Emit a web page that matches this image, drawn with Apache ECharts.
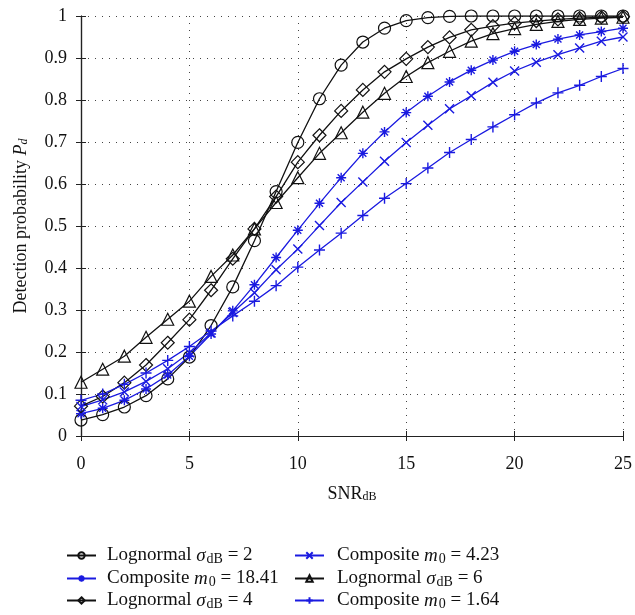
<!DOCTYPE html>
<html>
<head>
<meta charset="utf-8">
<script src="https://cdn.jsdelivr.net/npm/echarts@6/dist/echarts.min.js"></script>
<style>
html,body{margin:0;padding:0;background:#fff;}
#chart{width:635px;height:615px;}
</style>
</head>
<body>
<div id="chart"></div>
<script>
const snr = [0,1,2,3,4,5,6,7,8,9,10,11,12,13,14,15,16,17,18,19,20,21,22,23,24,25];
const xTicks = [0,5,10,15,20,25];
const yTicks = [0,0.1,0.2,0.3,0.4,0.5,0.6,0.7,0.8,0.9,1];

const logn2  = [0.038,0.051,0.069,0.096,0.136,0.188,0.263,0.355,0.465,0.582,0.699,0.803,0.883,0.938,0.971,0.989,0.996,0.999,1,1,1,1,1,1,1,1];
const logn4  = [0.071,0.094,0.127,0.169,0.222,0.277,0.347,0.422,0.493,0.57,0.652,0.716,0.774,0.824,0.867,0.898,0.926,0.949,0.967,0.976,0.983,0.988,0.992,0.995,0.997,0.998];
const logn6  = [0.128,0.159,0.19,0.235,0.278,0.321,0.38,0.431,0.493,0.556,0.615,0.673,0.722,0.771,0.816,0.856,0.889,0.916,0.94,0.958,0.97,0.98,0.987,0.992,0.995,0.997];
const comp1841 = [0.053,0.066,0.085,0.112,0.145,0.19,0.243,0.298,0.36,0.425,0.49,0.554,0.615,0.673,0.724,0.77,0.809,0.843,0.871,0.895,0.916,0.932,0.945,0.955,0.963,0.971];
const comp423  = [0.07,0.086,0.105,0.13,0.16,0.198,0.245,0.294,0.341,0.396,0.445,0.501,0.556,0.605,0.654,0.699,0.74,0.779,0.81,0.842,0.869,0.89,0.908,0.924,0.94,0.95];
const comp164  = [0.085,0.1,0.123,0.15,0.18,0.213,0.25,0.286,0.321,0.358,0.402,0.443,0.483,0.525,0.566,0.601,0.638,0.675,0.706,0.736,0.765,0.793,0.817,0.835,0.856,0.875];

const BLACK = '#111111';
const BLUE = '#1a1ae0';
const FONT = '"Liberation Serif","DejaVu Serif",serif';

const symAst = 'path://M5,0L5,10M0,5L10,5M1.5,1.5L8.5,8.5M1.5,8.5L8.5,1.5';
const symX = 'path://M0,0L10,10M0,10L10,0';
const symPlus = 'path://M5,0L5,10M0,5L10,5';

const names = {
  n2: 'Lognormal σdB = 2',
  c18: 'Composite m0 = 18.41',
  n4: 'Lognormal σdB = 4',
  c4: 'Composite m0 = 4.23',
  n6: 'Lognormal σdB = 6',
  c1: 'Composite m0 = 1.64'
};
const richNames = {};
richNames[names.n2]  = '{t|Lognormal }{i|σ}{s|dB}{t| = 2}';
richNames[names.c18] = '{t|Composite }{i|m}{s0|0}{t| = 18.41}';
richNames[names.n4]  = '{t|Lognormal }{i|σ}{s|dB}{t| = 4}';
richNames[names.c4]  = '{t|Composite }{i|m}{s0|0}{t| = 4.23}';
richNames[names.n6]  = '{t|Lognormal }{i|σ}{s|dB}{t| = 6}';
richNames[names.c1]  = '{t|Composite }{i|m}{s0|0}{t| = 1.64}';

// legend layout: [name, column, row]
const legendLayout = [
  [names.n2, 0, 0], [names.c18, 0, 1], [names.n4, 0, 2],
  [names.c4, 1, 0], [names.n6, 1, 1], [names.c1, 1, 2]
];

function pairs(arr){ return snr.map((x,i)=>[x,arr[i]]); }

function mkSeries(name, arr, color, symbol, size, hollow){
  return {
    name: name, type: 'line', data: pairs(arr),
    symbol: symbol, symbolSize: size,
    showAllSymbol: true,
    lineStyle: {color: color, width: 1.3},
    itemStyle: hollow ? {color: 'rgba(0,0,0,0)', borderColor: color, borderWidth: 1.2}
                      : {color: color, borderColor: color, borderWidth: 1.4},
    emphasis: {disabled: true},
    animation: false,
    z: 3
  };
}

const legendRich = {
  t: {fontSize: 19, fontFamily: FONT, color: '#111', lineHeight: 21},
  i: {fontSize: 19, fontFamily: FONT, fontStyle: 'italic', color: '#111', lineHeight: 21, padding: [0,1,0,0]},
  s: {fontSize: 14, fontFamily: FONT, color: '#111', verticalAlign: 'bottom', lineHeight: 13},
  s0: {fontSize: 14, fontFamily: FONT, color: '#111', verticalAlign: 'bottom', lineHeight: 13}
};

const colX = [66, 294];
const rowY = [546, 569, 591];
const legends = legendLayout.map(([n, c, r]) => ({
  orient: 'horizontal', left: colX[c], top: rowY[r], padding: 0,
  itemWidth: 29, itemHeight: 8,
  data: [n],
  formatter: nm => richNames[nm],
  textStyle: {rich: legendRich, fontSize: 19, fontFamily: FONT, padding: [0,0,0,(c === 0 ? 6 : 8)]},
  selectedMode: false
}));

const chart = echarts.init(document.getElementById('chart'), null, {renderer: 'canvas'});
chart.setOption({
  backgroundColor: '#ffffff',
  animation: false,
  grid: {left: 81, top: 16, width: 545, height: 420, containLabel: false},
  xAxis: [{
    type: 'value', min: xTicks[0], max: xTicks[xTicks.length-1], interval: 5,
    name: 'SNR{s|dB}', nameLocation: 'middle', nameGap: 49,
    nameTextStyle: {fontSize: 18, fontFamily: FONT, color: '#111',
      rich: {s: {fontSize: 12, fontFamily: FONT, color: '#111', verticalAlign: 'bottom', lineHeight: 12}}},
    axisLine: {lineStyle: {color: '#222', width: 1.2}},
    axisTick: {inside: true, length: 5, lineStyle: {color: '#222'}},
    axisLabel: {fontSize: 18, fontFamily: FONT, color: '#111', margin: 19},
    splitLine: {show: true, lineStyle: {color: '#444', type: [1, 6], width: 1}}
  },{
    type: 'value', position: 'top', min: 0, max: 25, interval: 5,
    axisLine: {show: true, lineStyle: {color: '#222', width: 1.2}},
    axisTick: {inside: true, length: 5, lineStyle: {color: '#222'}},
    axisLabel: {show: false}, splitLine: {show: false}
  }],
  yAxis: [{
    type: 'value', min: yTicks[0], max: yTicks[yTicks.length-1], interval: 0.1,
    name: 'Detection probability {i|P}{s|d}', nameLocation: 'middle', nameGap: 51, nameRotate: 90,
    nameTextStyle: {fontSize: 18, fontFamily: FONT, color: '#111',
      rich: {i: {fontSize: 18, fontFamily: FONT, fontStyle: 'italic', color: '#111'},
             s: {fontSize: 12, fontFamily: FONT, fontStyle: 'italic', color: '#111', verticalAlign: 'bottom', lineHeight: 12}}},
    axisLine: {show: true, lineStyle: {color: '#222', width: 1.2}},
    axisTick: {show: true, inside: true, length: 5, lineStyle: {color: '#222'}},
    axisLabel: {fontSize: 18, fontFamily: FONT, color: '#111', margin: 14,
      formatter: v => String(Math.round(v*10)/10)},
    splitLine: {show: true, lineStyle: {color: '#444', type: [1, 6], width: 1}}
  },{
    type: 'value', position: 'right', min: 0, max: 1, interval: 0.1,
    axisLine: {show: true, lineStyle: {color: '#222', width: 1.2}},
    axisTick: {show: true, inside: true, length: 5, lineStyle: {color: '#222'}},
    axisLabel: {show: false}, splitLine: {show: false}
  }],
  legend: legends,
  series: [
    mkSeries(names.n2, logn2, BLACK, 'circle', 12, true),
    mkSeries(names.c18, comp1841, BLUE, symAst, 10, false),
    mkSeries(names.n4, logn4, BLACK, 'diamond', 13, true),
    mkSeries(names.c4, comp423, BLUE, symX, 9, false),
    mkSeries(names.n6, logn6, BLACK, 'triangle', 12, true),
    mkSeries(names.c1, comp164, BLUE, symPlus, 11, false)
  ]
});
</script>
</body>
</html>
